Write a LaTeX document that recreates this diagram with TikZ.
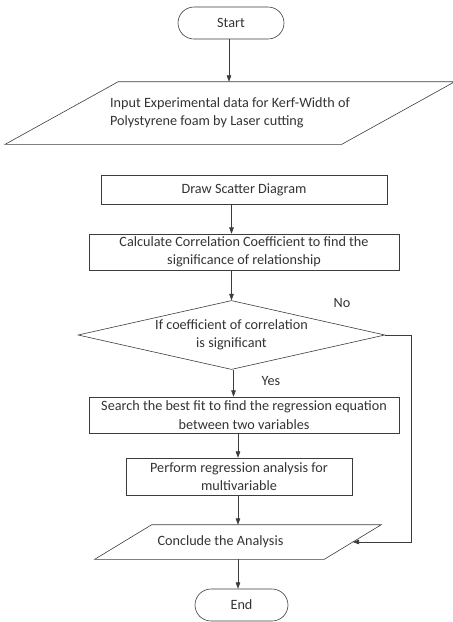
\documentclass[tikz,border=0pt]{standalone}
\usepackage{fontspec}
\setmainfont{Carlito}
\usetikzlibrary{positioning,arrows.meta,shapes.geometric,shapes.misc}
\definecolor{cLine}{HTML}{3C3C3C}
\definecolor{cText}{HTML}{333333}

\begin{document}
\begin{tikzpicture}[
  x=1pt, y=1pt,
  font=\fontsize{14.2}{18.5}\selectfont,
  >={Triangle[length=2.2mm, width=1.6mm]},
  line width=0.6pt,
  term/.style={rounded rectangle, draw=cLine, text=cText, minimum height=32pt, inner sep=2pt},
  box/.style={rectangle, draw=cLine, text=cText, align=center, inner sep=2pt},
  io/.style={rectangle, text=cText, align=left, inner sep=0pt},
  ask/.style={diamond, draw=cLine, text=cText, align=center, inner sep=-3pt, aspect=4.4},
  lab/.style={text=cText, inner sep=1pt},
  flow/.style={->, draw=cLine},
]
\useasboundingbox (0,0) rectangle (453,-622);

% ---- terminators and input ----
\node[term, minimum width=110pt] (start) at (231,-23) {Start};
\node[io, minimum width=336pt, minimum height=62pt] (input) at (230,-113)
  {Input Experimental data for Kerf-Width of\\Polystyrene foam by Laser cutting};
\draw[cLine] ([xshift=56.5pt]input.north west) -- ([xshift=56.5pt]input.north east)
  -- ([xshift=-56.5pt]input.south east) -- ([xshift=-56.5pt]input.south west) -- cycle;

% ---- processing steps ----
\node[box, minimum width=286pt, minimum height=29pt] (scatter) at (244,-189.5) {Draw Scatter Diagram};
\node[box, minimum width=310pt, minimum height=36pt] (corr) at (244,-252)
  {Calculate Correlation Coefficient to find the\\significance of relationship};
\node[ask, minimum width=307pt, minimum height=69pt] (test) at (231.5,-335)
  {If coefficient of correlation\\is significant};
\node[box, minimum width=310pt, minimum height=36pt] (fit) at (244,-415)
  {Search the best fit to find the regression equation\\between two variables};
\node[box, minimum width=226pt, minimum height=37pt] (multi) at (239,-476.5)
  {Perform regression analysis for\\multivariable};
\node[io, minimum height=34pt] (concl) at (238,-542)
  {\makebox[229pt][l]{\hspace{34pt}Conclude the Analysis}};
\draw[cLine] ([xshift=28.5pt]concl.north west) -- ([xshift=28.5pt]concl.north east)
  -- ([xshift=-28.5pt]concl.south east) -- ([xshift=-28.5pt]concl.south west) -- cycle;
\node[term, minimum width=97pt] (end) at (241.5,-605) {End};

% ---- labels ----
\node[lab] (lblno) at (342,-303) {No};
\node[lab] (lblyes) at (271,-381) {Yes};

% ---- arrows ----
\draw[flow] ([xshift=-2pt]start.south) -- ([xshift=-2pt]start.south |- input.north);
\draw[flow] (scatter.south -| test.north) -- (corr.north -| test.north);
\draw[flow] (corr.south -| test.north) -- (test.north);
\draw[flow] ([xshift=2pt]test.south) -- ([xshift=2pt]fit.north -| test.south);
\draw[flow] (fit.south -| concl.north) -- (multi.north -| concl.north);
\draw[flow] (multi.south -| concl.north) -- (concl.north);
\draw[flow] (concl.south) -- (end.north -| concl.south);
\draw[flow] (test.east) -- ++(26,0) |- (concl.east);

\end{tikzpicture}
\end{document}
